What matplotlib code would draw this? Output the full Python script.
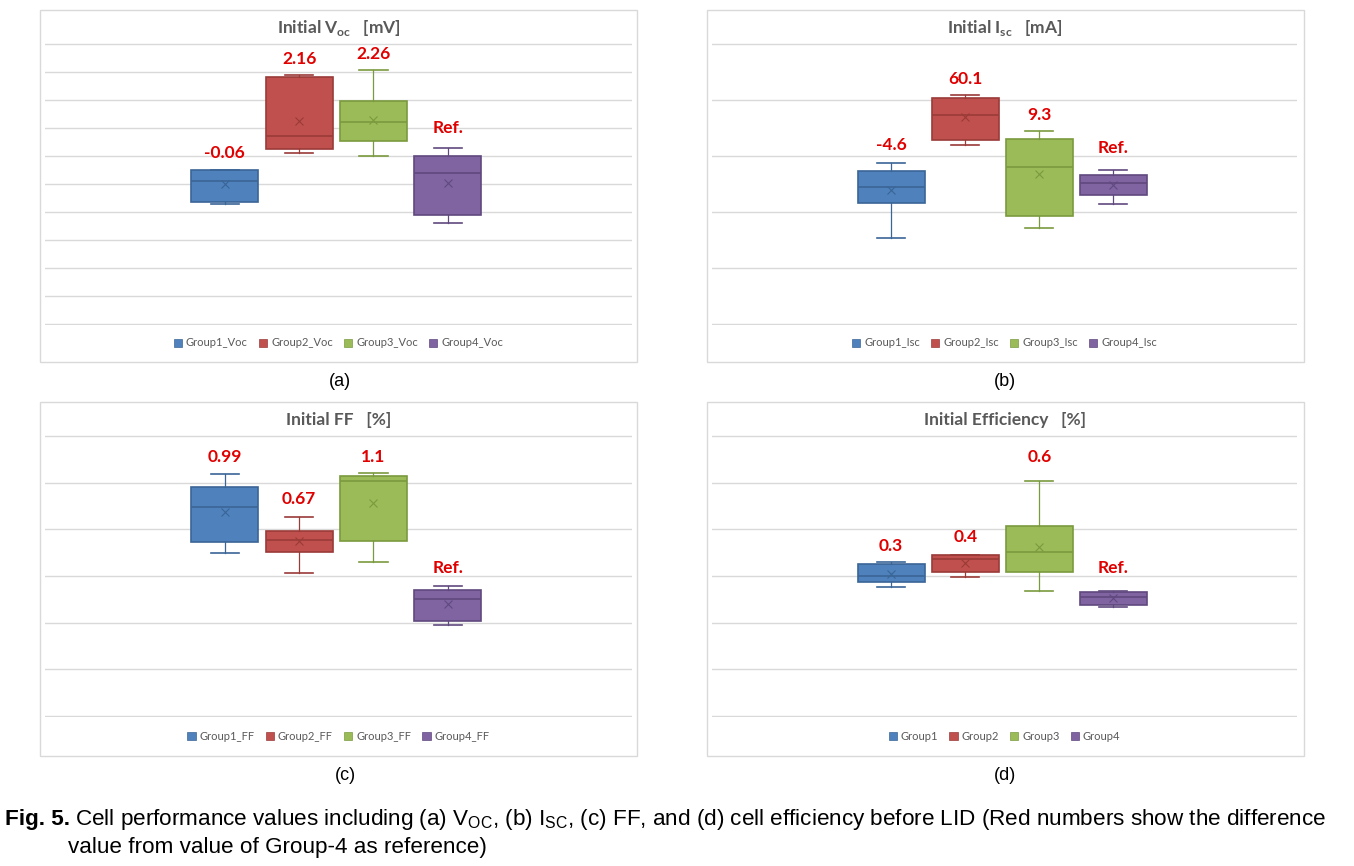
import matplotlib
matplotlib.use("Agg")
import matplotlib.pyplot as plt
from matplotlib.patches import Patch, Rectangle

# chart values (no axis scale shown in the original -> units of gridlines)
groups = ["Group1", "Group2", "Group3", "Group4"]
fills = ["#4F81BD", "#C0504D", "#9BBB59", "#8064A2"]
edges = ["#3A6596", "#9A3B38", "#7A9A3E", "#60497F"]

# (a) Voc
voc_lo = [4.29, 6.10, 6.00, 3.62]
voc_q1 = [4.36, 6.25, 6.52, 3.89]
voc_med = [5.11, 6.70, 7.20, 5.39]
voc_q3 = [5.51, 8.83, 7.98, 6.00]
voc_hi = [5.51, 8.90, 9.09, 6.30]
voc_mean = [5.00, 7.25, 7.29, 5.04]
voc_diff = ["-0.06", "2.16", "2.26", "Ref."]
voc_diff_y = [6.10, 9.47, 9.65, 6.99]

# (b) Isc
isc_lo = [1.54, 3.19, 1.72, 2.15]
isc_q1 = [2.16, 3.29, 1.93, 2.30]
isc_med = [2.45, 3.74, 2.80, 2.51]
isc_q3 = [2.73, 4.04, 3.30, 2.66]
isc_hi = [2.88, 4.09, 3.45, 2.75]
isc_mean = [2.39, 3.69, 2.67, 2.49]
isc_diff = ["-4.6", "60.1", "9.3", "Ref."]
isc_diff_y = [3.20, 4.38, 3.73, 3.14]

# (c) FF
ff_lo = [3.49, 3.06, 3.30, 1.94]
ff_q1 = [3.73, 3.52, 3.76, 2.04]
ff_med = [4.47, 3.77, 5.04, 2.51]
ff_q3 = [4.90, 3.96, 5.14, 2.71]
ff_hi = [5.18, 4.27, 5.21, 2.78]
ff_mean = [4.38, 3.74, 4.57, 2.40]
ff_diff = ["0.99", "0.67", "1.1", "Ref."]
ff_diff_y = [5.55, 4.65, 5.55, 3.18]

# (d) Efficiency
eff_lo = [2.76, 2.98, 2.67, 2.33]
eff_q1 = [2.88, 3.09, 3.09, 2.38]
eff_med = [2.99, 3.37, 3.51, 2.55]
eff_q3 = [3.26, 3.45, 4.07, 2.65]
eff_hi = [3.29, 3.45, 5.04, 2.67]
eff_mean = [3.04, 3.28, 3.62, 2.53]
eff_diff = ["0.3", "0.4", "0.6", "Ref."]
eff_diff_y = [3.65, 3.84, 5.55, 3.18]

plt.rcParams['mathtext.fontset'] = 'custom'
plt.rcParams['mathtext.rm'] = 'Lato'
plt.rcParams['mathtext.bf'] = 'Lato:bold'
plt.rcParams['mathtext.sf'] = 'Liberation Sans'

W, H = 1354, 866
fig = plt.figure(figsize=(W / 100, H / 100), dpi=100)


def fx(px):
    return px / W


def fy(py):
    return 1 - py / H


def panel(frame, plot, ymax, title, suffix, lo, q1, med, q3, hi, mean, diff, diff_y, leg_y, sub, sub_xy):
    # light border around each chart
    x0, y0, x1, y1 = frame
    fig.patches.append(Rectangle((fx(x0), fy(y1)), fx(x1 - x0), (y1 - y0) / H,
                                 transform=fig.transFigure, fill=False,
                                 edgecolor="#D9D9D9", linewidth=1))
    px0, py0, px1, py1 = plot
    ax = fig.add_axes([fx(px0), fy(py1), fx(px1 - px0), (py1 - py0) / H])
    stats = []
    for i in range(4):
        stats.append(dict(whislo=lo[i], q1=q1[i], med=med[i], q3=q3[i],
                          whishi=hi[i], mean=mean[i], fliers=[]))
    for i in range(4):
        ax.bxp([stats[i]], positions=[i + 1], widths=0.9, capwidths=0.38,
               patch_artist=True, showmeans=True,
               boxprops=dict(facecolor=fills[i], edgecolor=edges[i], linewidth=1.2),
               medianprops=dict(color=edges[i], linewidth=1.2),
               whiskerprops=dict(color=edges[i], linewidth=0.9),
               capprops=dict(color=edges[i], linewidth=1.2),
               meanprops=dict(marker="x", markeredgecolor=edges[i], markersize=6,
                              markeredgewidth=0.8))
        ax.text(i + 1, diff_y[i], diff[i], color="#E00000", fontsize=12.5,
                fontweight="bold", ha="center", va="center", family="Lato")
    ax.set_xlim(-1.42, 6.48)
    pad = ymax * 0.004
    ax.set_ylim(-pad, ymax + pad)
    ax.set_yticks(range(0, ymax + 1))
    ax.set_xticks([])
    ax.tick_params(left=False, labelleft=False)
    ax.grid(axis="y", color="#D9D9D9", linewidth=1)
    ax.set_axisbelow(True)
    for s in ax.spines.values():
        s.set_visible(False)
    fig.text(fx((px0 + px1) / 2), fy(py0 - 15), title, ha="center", va="center",
             fontsize=12.5, fontweight="bold", color="#595959", family="Lato")
    handles = [Patch(facecolor=fills[i], edgecolor=edges[i], linewidth=0.5,
                     label=groups[i] + suffix) for i in range(4)]
    fig.legend(handles=handles, loc="center", bbox_to_anchor=(fx((px0 + px1) / 2), fy(leg_y)),
               ncol=4, frameon=False, handlelength=0.75, handleheight=0.75,
               handletextpad=0.35, columnspacing=1.0, labelcolor="#595959",
               prop=dict(family="Lato", size=8))
    fig.text(fx(sub_xy[0]), fy(sub_xy[1]), sub, ha="center", va="center",
             fontsize=13, family="Liberation Sans")


panel((40, 10, 637, 362), (45, 43, 632, 325), 10, r"Initial V$_{\mathbf{oc}}$   [mV]", "_Voc",
      voc_lo, voc_q1, voc_med, voc_q3, voc_hi, voc_mean, voc_diff, voc_diff_y, 343, "(a)", (340, 382))
panel((707, 10, 1304, 362), (712, 43, 1297, 325), 5, r"Initial I$_{\mathbf{sc}}$   [mA]", "_Isc",
      isc_lo, isc_q1, isc_med, isc_q3, isc_hi, isc_mean, isc_diff, isc_diff_y, 343, "(b)", (1005, 382))
panel((40, 402, 637, 756), (45, 435, 632, 717), 6, "Initial FF   [%]", "_FF",
      ff_lo, ff_q1, ff_med, ff_q3, ff_hi, ff_mean, ff_diff, ff_diff_y, 736, "(c)", (345, 775))
panel((707, 402, 1304, 756), (712, 435, 1297, 717), 6, "Initial Efficiency   [%]", "",
      eff_lo, eff_q1, eff_med, eff_q3, eff_hi, eff_mean, eff_diff, eff_diff_y, 736, "(d)", (1005, 775))

# caption
cap_fam = "Liberation Sans"
cap_size = 16.2
renderer = fig.canvas.get_renderer()
t1 = fig.text(fx(5), fy(820), "Fig. 5.", fontsize=cap_size, fontweight="bold", va="center",
              family=cap_fam)
bb = t1.get_window_extent(renderer)
fig.text(bb.x1 / W + fx(5), fy(820),
         r"Cell performance values including (a) V$_{\mathsf{OC}}$, (b) I$_{\mathsf{SC}}$, (c) FF, and (d) cell efficiency before LID (Red numbers show the difference",
         fontsize=cap_size, va="center", family=cap_fam)
fig.text(fx(68), fy(847), "value from value of Group-4 as reference)", fontsize=cap_size,
         va="center", family=cap_fam)

fig.savefig("out.png", dpi=100)
